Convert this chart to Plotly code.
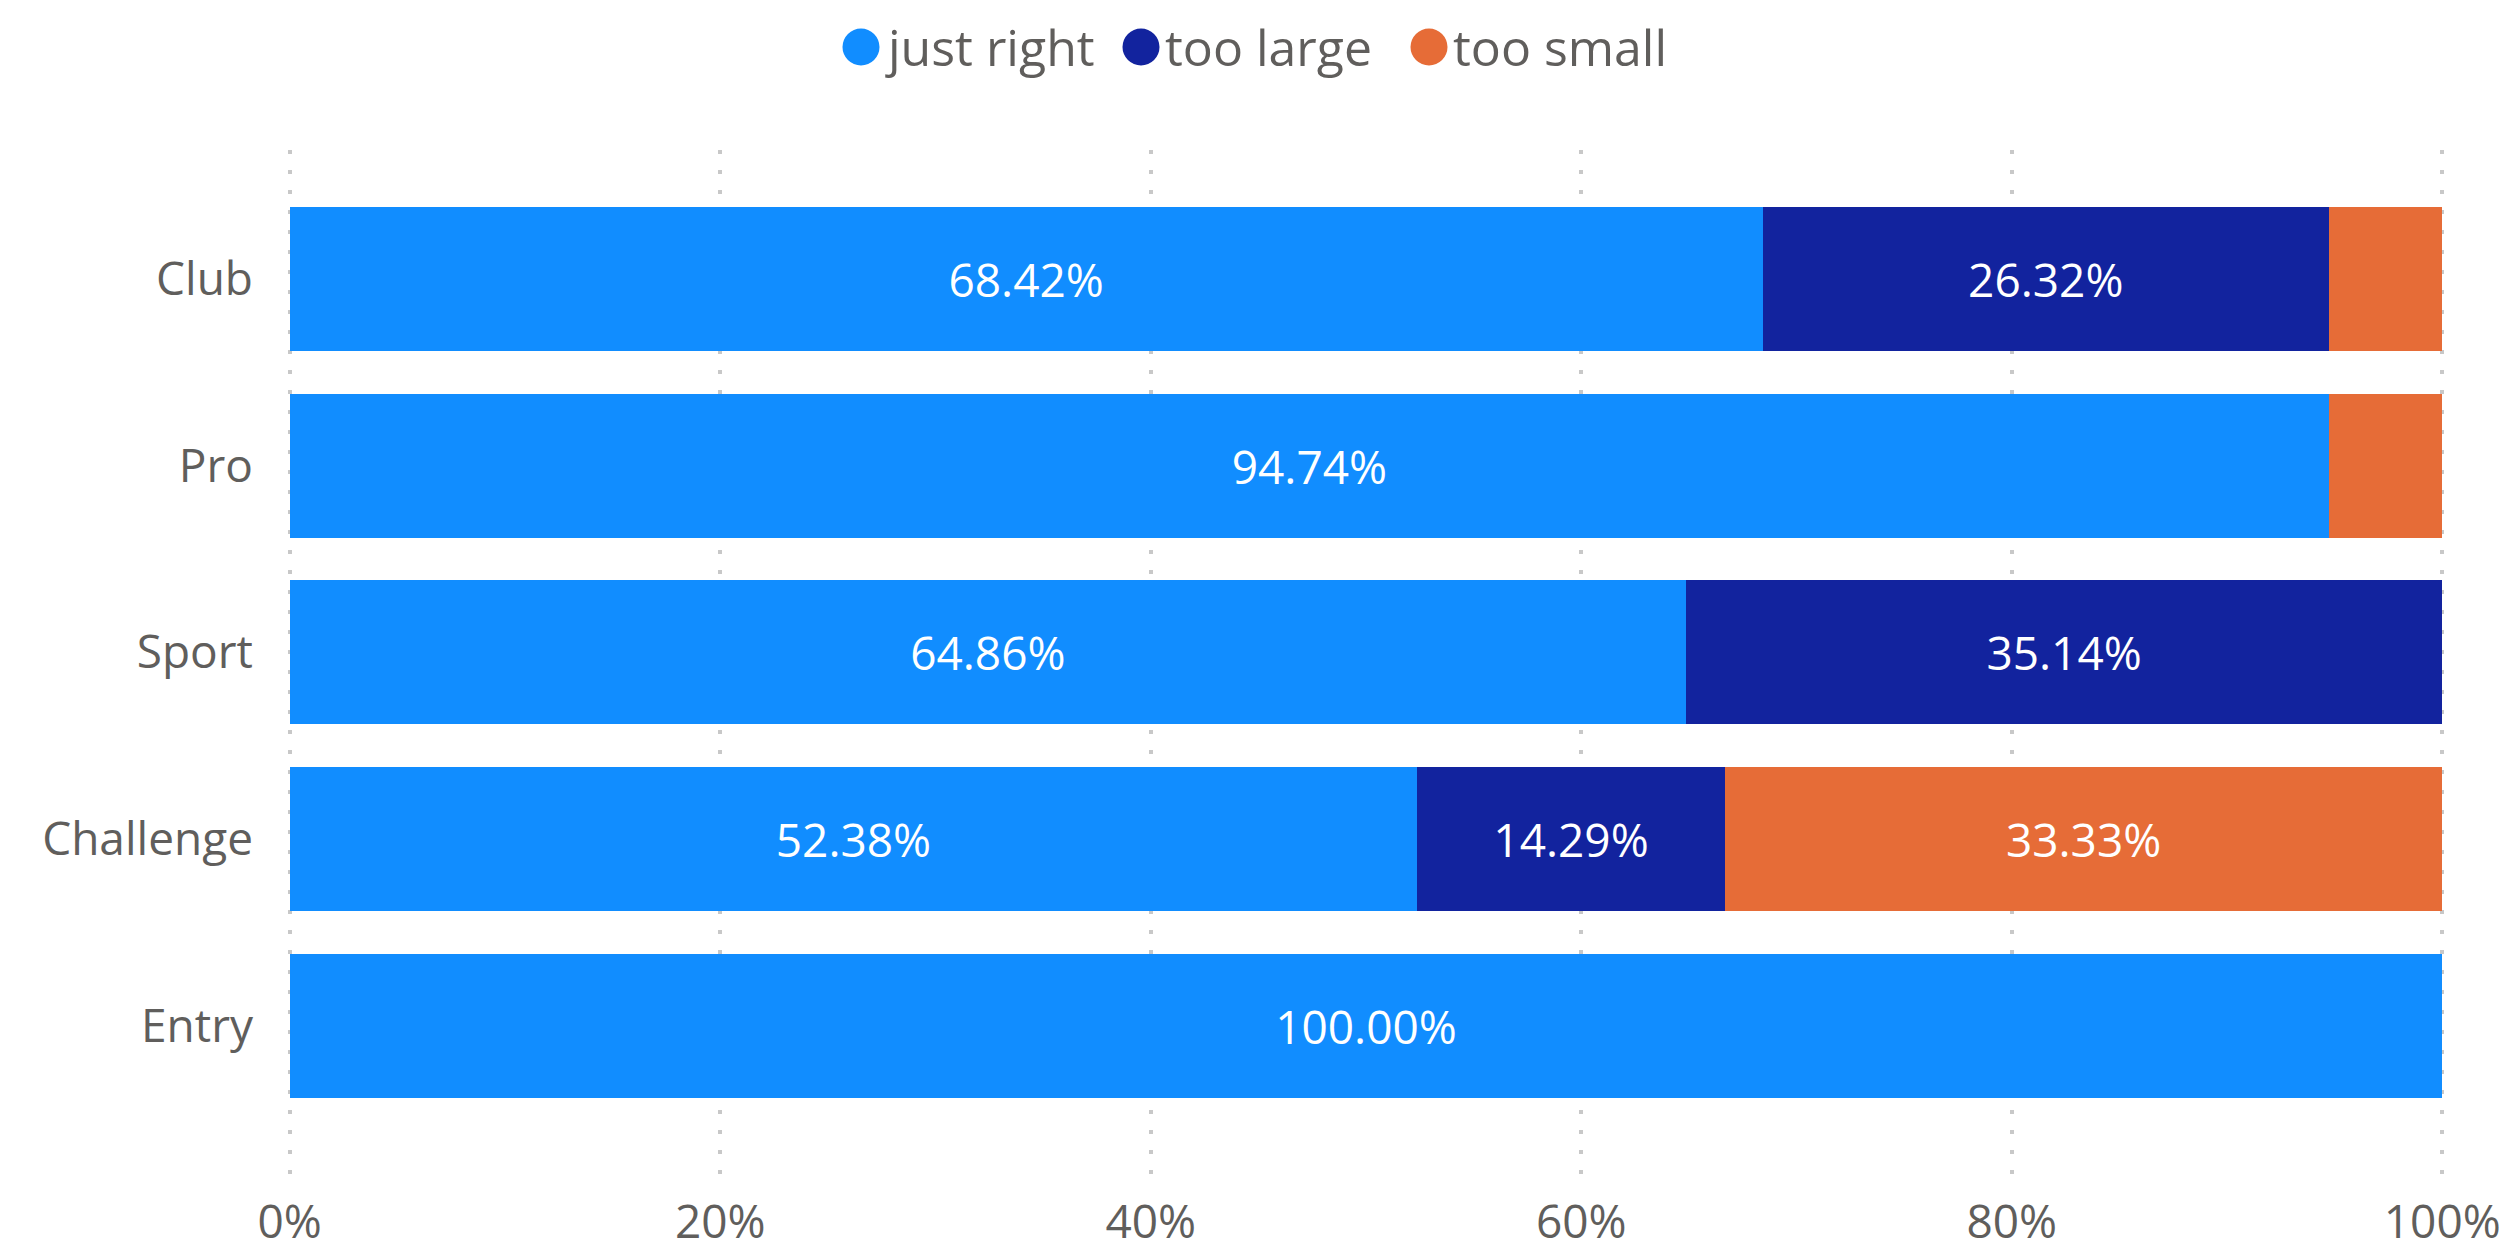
import plotly.graph_objects as go

categories = ["Club", "Pro", "Sport", "Challenge", "Entry"]
series_names = ["just right", "too large", "too small"]
just_right = [68.42, 94.74, 64.86, 52.38, 100.00]
too_large = [26.32, 0.00, 35.14, 14.29, 0.00]
too_small = [5.26, 5.26, 0.00, 33.33, 0.00]
colors = ["#118DFF", "#12239E", "#E66C37"]
x_ticks = [0, 20, 40, 60, 80, 100]
x_ticktext = [f"{v}%" for v in x_ticks]

W, H = 2508, 1256
OFF = 8  # page body margin
L, R, T, B = 288 - OFF, 64 + OFF, 150 - OFF, 81 + OFF
FONT = "Open Sans"
GREY = "#605E5C"
FS = 46
LEG_FS = 50

fig = go.Figure()
for name, vals, col in zip(series_names, [just_right, too_large, too_small], colors):
    fig.add_trace(go.Bar(
        y=categories, x=vals, name=name, orientation="h",
        marker=dict(color=col, line=dict(width=0)),
        text=[f"{v:.2f}%" if v >= 10 else "" for v in vals],
        textposition="inside", insidetextanchor="middle", textangle=0,
        textfont=dict(color="white", size=FS, family=FONT),
        constraintext="none", showlegend=False,
    ))

# custom legend (large circles like the reference)
pw = W - L - R
ph = H - T - B
legend_px = [861, 1141, 1429]
for name, col, cx in zip(series_names, colors, legend_px):
    cxf = cx - OFF
    xp = (cxf - L) / pw
    yp = (H - B - (47 - OFF)) / ph
    fig.add_shape(type="circle", xref="paper", yref="paper",
                  xsizemode="pixel", ysizemode="pixel",
                  xanchor=xp, yanchor=yp, x0=-18.5, x1=18.5, y0=-18.5, y1=18.5,
                  fillcolor=col, line=dict(width=0))
    fig.add_annotation(x=(cxf + 22 - L) / pw, y=yp, xref="paper", yref="paper",
                       text=name, showarrow=False, xanchor="left", yanchor="middle",
                       font=dict(size=LEG_FS, color=GREY, family=FONT))

fig.update_layout(
    width=W, height=H, barmode="stack", bargap=0.229,
    template="none",
    plot_bgcolor="white", paper_bgcolor="white",
    margin=dict(l=L, r=R, t=T, b=B, autoexpand=False),
    font=dict(family=FONT, color=GREY, size=FS),
    showlegend=False,
    xaxis=dict(range=[-0.08, 100.08], tickvals=x_ticks, ticktext=x_ticktext,
               showgrid=True, gridcolor="#C8C8C8", gridwidth=4, griddash="4px,16px",
               zeroline=False, showline=False, ticks="", automargin=False,
               ticklabelstandoff=16,
               tickfont=dict(size=FS, color=GREY, family=FONT)),
    yaxis=dict(type="category", categoryorder="array",
               categoryarray=list(reversed(categories)),
               range=[-0.8, 4.69], showgrid=False, zeroline=False, showline=False,
               ticks="", automargin=False, ticklabelstandoff=34,
               tickfont=dict(size=FS, color=GREY, family=FONT)),
)

fig.write_html("out.html")
